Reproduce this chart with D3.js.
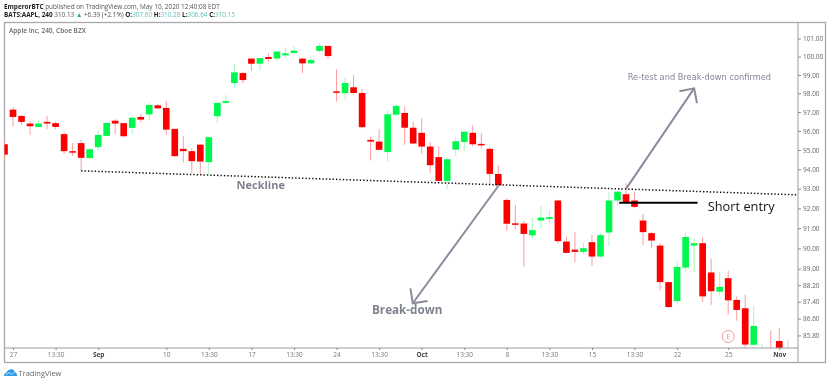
<!DOCTYPE html>
<html>
<head>
<meta charset="utf-8">
<script src="https://cdnjs.cloudflare.com/ajax/libs/d3/7.8.5/d3.min.js"></script>
<style>
html, body { margin:0; padding:0; background:#fff; }
svg { display:block; font-family:"Open Sans", sans-serif; filter:blur(0.3px); }
</style>
</head>
<body>
<div id="chart"></div>
<script>
// Candle values, one entry per bar
var highs = [95.53,97.26,96.85,96.54,96.58,96.81,96.48,95.93,95.36,95.53,95.09,96.00,96.44,96.62,96.44,96.78,96.90,97.50,97.43,97.61,96.12,95.74,95.09,95.30,95.70,97.50,97.91,99.58,99.17,99.89,99.92,100.18,100.31,100.51,100.59,99.92,99.99,100.73,100.60,99.31,98.87,98.98,98.25,95.70,96.11,97.11,97.43,97.29,96.49,96.67,95.41,95.20,94.63,95.63,96.00,96.32,95.90,95.15,94.19,92.52,92.18,91.37,91.51,92.13,91.92,92.43,90.57,90.81,90.27,90.67,90.76,92.80,92.89,93.28,92.84,91.72,90.79,90.26,88.37,89.39,90.79,90.51,90.56,89.50,88.85,88.90,87.65,87.74,87.20,85.39,86.02,86.15,85.59,85.25];
var opens = [95.30,97.13,96.79,96.39,96.21,96.48,96.41,95.83,94.94,95.36,94.58,95.15,95.74,96.54,96.41,96.16,96.74,96.88,97.36,97.22,96.11,95.06,94.94,95.28,94.37,96.78,97.49,98.56,99.10,99.89,99.61,99.98,99.90,100.07,100.20,99.89,99.63,100.31,100.59,98.11,98.01,98.33,98.02,95.53,95.44,94.89,96.86,96.95,96.17,95.90,95.18,94.63,93.40,95.02,95.42,95.90,95.32,95.06,93.76,92.43,91.25,91.24,90.65,91.39,91.47,92.40,90.34,89.94,89.83,90.31,89.60,90.79,92.40,92.72,92.40,91.39,90.76,90.14,88.35,87.44,89.06,90.14,90.26,88.82,87.89,88.54,87.49,87.09,85.36,84.60,84.90,85.54,84.90,84.95];
var closes = [94.76,96.74,96.48,96.25,96.39,96.39,96.21,94.94,94.87,94.59,95.04,95.79,96.42,96.39,95.72,96.70,96.60,97.38,97.20,96.07,94.68,94.94,94.42,94.40,95.67,97.49,97.59,99.14,98.72,99.61,99.92,99.87,100.28,100.18,100.33,99.63,99.81,100.59,100.03,98.04,98.56,98.02,96.20,95.44,95.01,96.88,97.33,96.17,95.34,95.18,94.21,93.40,94.52,95.46,95.96,95.30,95.25,93.76,93.18,91.23,91.19,90.72,90.91,91.54,91.56,90.36,89.78,89.83,90.01,89.60,90.66,92.40,92.85,92.31,92.08,90.81,90.39,88.35,87.15,89.09,90.57,90.26,87.66,87.91,88.12,87.47,87.01,85.37,86.25,84.95,84.50,84.90,85.20,84.80];
var lows = [94.49,96.23,96.32,95.79,96.20,96.09,96.09,94.80,94.69,93.93,94.55,94.97,95.74,95.83,95.70,95.83,96.46,96.54,97.17,95.79,94.63,94.35,93.80,93.73,93.73,96.42,97.43,98.29,98.55,99.21,99.21,99.70,99.76,99.94,100.14,99.09,99.60,100.22,99.87,97.56,97.68,97.95,96.14,94.45,94.99,94.37,96.83,95.27,95.30,94.80,93.80,93.36,92.97,94.66,94.97,95.18,95.09,93.25,93.14,90.87,90.97,89.09,90.47,91.00,91.26,90.26,89.75,89.32,89.73,89.13,89.57,90.12,92.16,92.26,92.01,90.17,90.01,87.96,87.12,87.28,88.82,88.82,87.39,87.24,87.70,86.79,86.50,85.15,85.36,84.40,84.30,84.60,84.70,84.60];

var priceTicks = [101,100,99,98,97,96,95,94,93,92,91,90,89,88.2,87.4,86.6,85.8];
var timeTickBars = [1,6,11,19,24,29,34,39,44,49,54,59,64,69,74,79,85,91];
var timeTickLabels = ["27","13:30","Sep","10","13:30","17","13:30","24","13:30","Oct","13:30","8","13:30","15","13:30","22","25","Nov"];
var boldLabels = ["Sep","Oct","Nov"];

// Drawn lines as [bar, price] pairs
var neckline = [[9,93.92],[93.08,92.69]];
var breakArrow = [[58,93.14],[47.95,87.33]];
var retestArrow = [[73,92.99],[81,98.27]];
var entryLine = [[72.2,92.29],[81.4,92.29]];

var width = 829, height = 382;
var plot = { left:4.5, right:798, top:22.5, bottom:348, frameBottom:362.5, frameRight:825.5 };

var x = d3.scaleLinear().domain([0, 93]).range([4.5, 796.3]);
var y = d3.scaleLog().domain([101, 85]).range([38.5, 352.5]);

var svg = d3.select("#chart").append("svg")
	.attr("width", width)
	.attr("height", height);

svg.append("clipPath").attr("id", "plotClip")
	.append("rect")
		.attr("x", plot.left)
		.attr("y", plot.top)
		.attr("width", plot.right - plot.left)
		.attr("height", plot.bottom - plot.top);

// Header lines
var line1 = svg.append("text").attr("x", 4).attr("y", 9).attr("font-size", 6.4).attr("fill", "#555");
line1.append("tspan").attr("font-weight", 700).attr("fill", "#222").text("EmperorBTC");
line1.append("tspan").text(" published on TradingView.com, May 10, 2020 12:40:08 EDT");

var teal = "#5fc4bc";
var line2 = svg.append("text").attr("x", 4).attr("y", 17.3).attr("font-size", 6.4).attr("fill", "#222");
line2.append("tspan").attr("font-weight", 700).text("BATS:AAPL, 240");
line2.append("tspan").attr("fill", "#555").text(" 310.13 ");
line2.append("tspan").attr("fill", "#26a69a").text("▲");
line2.append("tspan").attr("fill", "#555").text(" +6.39 (+2.1%) ");
[["O:","307.60 "],["H:","310.28 "],["L:","306.64 "],["C:","310.15"]].forEach(function(d) {
	line2.append("tspan").attr("font-weight", 700).text(d[0]);
	line2.append("tspan").attr("fill", teal).text(d[1]);
});

// Frame
svg.append("rect")
	.attr("x", plot.left)
	.attr("y", plot.top)
	.attr("width", plot.frameRight - plot.left)
	.attr("height", plot.frameBottom - plot.top)
	.attr("fill", "none")
	.attr("stroke", "#a8a8b0")
	.attr("stroke-width", 1.3);

svg.append("text")
	.attr("x", 9)
	.attr("y", 33)
	.attr("font-size", 6.5)
	.attr("font-weight", 600)
	.attr("fill", "#666")
	.text("Apple Inc, 240, Cboe BZX");

// Candles
var bars = d3.range(highs.length);
var candles = svg.append("g").attr("clip-path", "url(#plotClip)");
var bodyWidth = (x(1) - x(0)) * 0.78;

function isUp(i) { return closes[i] >= opens[i]; }

candles.selectAll("line.wick")
	.data(bars)
	.enter()
	.append("line")
		.attr("class", "wick")
		.attr("x1", function(i) { return x(i); })
		.attr("x2", function(i) { return x(i); })
		.attr("y1", function(i) { return y(highs[i]); })
		.attr("y2", function(i) { return y(lows[i]); })
		.attr("stroke", function(i) { return isUp(i) ? "#a6f7bd" : "#ff9c9c"; })
		.attr("stroke-width", 1);

candles.selectAll("rect.body")
	.data(bars)
	.enter()
	.append("rect")
		.attr("class", "body")
		.attr("x", function(i) { return x(i) - bodyWidth / 2; })
		.attr("y", function(i) { return y(Math.max(opens[i], closes[i])); })
		.attr("width", bodyWidth)
		.attr("height", function(i) { return Math.max(1.5, y(Math.min(opens[i], closes[i])) - y(Math.max(opens[i], closes[i]))); })
		.attr("fill", function(i) { return isUp(i) ? "#00f84e" : "#fb0000"; });

// Price axis
var yAxis = d3.axisRight(y)
	.tickValues(priceTicks)
	.tickSize(3)
	.tickPadding(2)
	.tickFormat(function(d) { return d.toFixed(2); });

var yAxisGroup = svg.append("g")
	.attr("transform", "translate(" + plot.right + ",0)")
	.call(yAxis);
yAxisGroup.select(".domain").attr("d", "M0," + plot.top + "V" + plot.frameBottom).attr("stroke", "#9c9ca4");
yAxisGroup.selectAll(".tick line").attr("stroke", "#888");
yAxisGroup.selectAll("text")
	.attr("font-family", "\"Open Sans\", sans-serif")
	.attr("font-size", 6.5)
	.attr("fill", "#666");

// Time axis
var xAxis = d3.axisBottom(x)
	.tickValues(timeTickBars)
	.tickSize(2)
	.tickPadding(2)
	.tickFormat(function(d) { return timeTickLabels[timeTickBars.indexOf(d)]; });

var xAxisGroup = svg.append("g")
	.attr("transform", "translate(0," + plot.bottom + ")")
	.call(xAxis);
xAxisGroup.select(".domain").attr("d", "M" + plot.left + ",0H" + plot.right).attr("stroke", "#9c9ca4");
xAxisGroup.selectAll(".tick line").attr("stroke", "#888");
xAxisGroup.selectAll("text")
	.attr("font-family", "\"Open Sans\", sans-serif")
	.attr("font-size", 6.5)
	.attr("fill", function(d, i) { return boldLabels.indexOf(timeTickLabels[i]) >= 0 ? "#444" : "#777"; })
	.attr("font-weight", function(d, i) { return boldLabels.indexOf(timeTickLabels[i]) >= 0 ? 700 : 400; });

// Annotations
var linePath = d3.line()
	.x(function(d) { return x(d[0]); })
	.y(function(d) { return y(d[1]); });

svg.append("path")
	.attr("d", linePath(neckline))
	.attr("fill", "none")
	.attr("stroke", "#111")
	.attr("stroke-width", 1.5)
	.attr("stroke-dasharray", "1.4 2");

svg.append("path")
	.attr("d", linePath(entryLine))
	.attr("fill", "none")
	.attr("stroke", "#000")
	.attr("stroke-width", 2);

var arrowColor = "#8b8c9b";

function drawArrow(pts) {
	svg.append("path")
		.attr("d", linePath(pts))
		.attr("fill", "none")
		.attr("stroke", arrowColor)
		.attr("stroke-width", 2);
	var tipX = x(pts[1][0]), tipY = y(pts[1][1]);
	var back = Math.atan2(y(pts[0][1]) - tipY, x(pts[0][0]) - tipX);
	var headLen = 15;
	var a1 = back - Math.PI / 4, a2 = back + Math.PI / 4;
	svg.append("path")
		.attr("d", "M" + (tipX + headLen * Math.cos(a1)) + "," + (tipY + headLen * Math.sin(a1)) +
			"L" + tipX + "," + tipY +
			"L" + (tipX + headLen * Math.cos(a2)) + "," + (tipY + headLen * Math.sin(a2)))
		.attr("fill", "none")
		.attr("stroke", arrowColor)
		.attr("stroke-width", 2);
}
drawArrow(breakArrow);
drawArrow(retestArrow);

svg.append("text")
	.attr("x", x(30.1))
	.attr("y", y(92.99))
	.attr("text-anchor", "middle")
	.attr("font-size", 11)
	.attr("font-weight", 700)
	.attr("fill", "#7f8390")
	.text("Neckline");

svg.append("text")
	.attr("x", x(47.3))
	.attr("y", y(86.82))
	.attr("text-anchor", "middle")
	.attr("font-size", 11.7)
	.attr("font-weight", 700)
	.attr("fill", "#7f8390")
	.text("Break-down");

svg.append("text")
	.attr("x", x(73.2))
	.attr("y", y(98.7))
	.attr("font-family", "\"DejaVu Sans\", sans-serif")
	.attr("font-size", 8.25)
	.attr("fill", "#85869a")
	.text("Re-test and Break-down confirmed");

svg.append("text")
	.attr("x", x(82.6))
	.attr("y", y(91.87))
	.attr("font-size", 12.8)
	.attr("fill", "#111")
	.text("Short entry");

// Earnings marker
svg.append("circle")
	.attr("cx", x(85))
	.attr("cy", y(85.75))
	.attr("r", 6)
	.attr("fill", "#fff")
	.attr("stroke", "#f29a9a")
	.attr("stroke-width", 1);
svg.append("text")
	.attr("x", x(85))
	.attr("y", y(85.75) + 2.5)
	.attr("text-anchor", "middle")
	.attr("font-size", 7)
	.attr("fill", "#ec8c8c")
	.text("E");

// TradingView logo
svg.append("path")
	.attr("d", "M4,376 Q4,373 6.5,372.5 Q8,369 11,369.5 Q13.5,368.5 14.5,371.5 Q17.3,373 17.3,376 Z")
	.attr("fill", "#2f9bea");
svg.append("path")
	.attr("d", "M6,375 L9,372.5 L11.5,374.5 L14.5,372")
	.attr("fill", "none")
	.attr("stroke", "#fff")
	.attr("stroke-width", 0.7);
svg.append("text")
	.attr("x", 18.5)
	.attr("y", 375.5)
	.attr("font-size", 7.5)
	.attr("fill", "#666")
	.text("TradingView");
</script>
</body>
</html>
